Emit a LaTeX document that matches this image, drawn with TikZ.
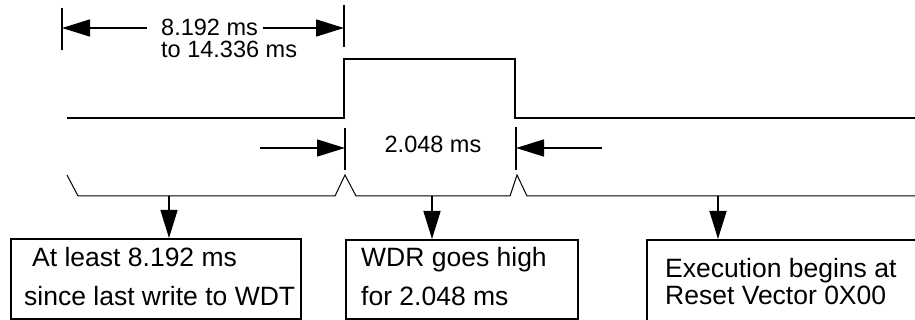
\documentclass[tikz,border=0pt]{standalone}
\usepackage{fontspec}
\setmainfont{Liberation Sans}
\usetikzlibrary{arrows.meta,positioning}

\begin{document}
\begin{tikzpicture}[x=1pt,y=-1pt,
  wave/.style={line width=2.6pt},
  tick/.style={line width=1.6pt},
  dim/.style={line width=1.4pt,-{Triangle[length=28pt,width=17pt]}},
  brace/.style={line width=1pt},
  note/.style={draw,line width=1.6pt,inner sep=0pt,anchor=north west},
  notetext/.style={anchor=base west,inner sep=0pt,align=left,font=\fontsize{26.5}{38}\selectfont},
  lbl/.style={font=\fontsize{23.5}{28}\selectfont,inner sep=0pt,anchor=base west,
    text height=16pt,text depth=0pt}]
\useasboundingbox (0,0) rectangle (915,320);

% signal
\coordinate (w0) at (67,118);
\coordinate (w1) at (344,118);
\coordinate (w2) at (344,59);
\coordinate (w3) at (515,59);
\coordinate (w4) at (515,118);
\coordinate (w5) at (915,118);
\draw[wave] (w0) -- (w1) -- (w2) -- (w3) -- (w4) -- (w5);

% 8.192 ms dimension
\coordinate (t1a) at (62,8);
\coordinate (t1b) at (62,50);
\coordinate (t2a) at (344,5);
\coordinate (t2b) at (344,47);
\draw[tick] (t1a) -- (t1b);
\draw[tick] (t2a) -- (t2b);
\node[lbl] (min) at (161,36) {8.192 ms};
\node[lbl] (max) at (161,58) {to 14.336 ms};
\coordinate (a1) at ([xshift=-14pt]min.west);
\coordinate (a2) at ([xshift=5pt]min.east);
\draw[dim] (a1) -- (a1 -| t1a);
\draw[dim] (a2) -- (a2 -| t2a);

% 2.048 ms dimension
\coordinate (t3a) at (345,128);
\coordinate (t3b) at (345,170);
\coordinate (t4a) at (516,127);
\coordinate (t4b) at (516,170);
\draw[tick] (t3a) -- (t3b);
\draw[tick] (t4a) -- (t4b);
\node[lbl,anchor=base] (pulse) at (433,153) {2.048 ms};
\coordinate (p1) at (260,148);
\coordinate (p2) at (602,148);
\draw[dim] (p1) -- (p1 -| t3a);
\draw[dim] (p2) -- (p2 -| t4a);

% time brace
\coordinate (b0) at (67,175);
\coordinate (b1) at (169,196);
\coordinate (b2) at (432,196);
\coordinate (b3) at (718,196);
\draw[brace] (b0) -- (78,196) -- (335,196) -- (345,175) -- (356,196)
  -- (510,196) -- (517,175) -- (527,196) -- (915,196);

% notes
\node[note,minimum width=290pt,minimum height=80pt] (wait) at (10,238) {};
\node[note,minimum width=232pt,minimum height=79pt] (high) at (345,239) {};
\node[note,minimum width=275pt,minimum height=86pt] (exec) at (646,239) {};
\node[notetext] (waittext) at (24,305) {\hspace*{8pt}At least 8.192 ms\\since last write to WDT};
\node[notetext] (hightext) at (361,305) {WDR goes high\\for 2.048 ms};
\node[notetext,font=\fontsize{26.5}{27}\selectfont] (exectext) at (665,304) {Execution begins at\\Reset Vector 0X00};
\draw[dim] (b1) -- (b1 |- wait.north);
\draw[dim] (b2) -- (b2 |- high.north);
\draw[dim] (b3) -- (b3 |- exec.north);
\end{tikzpicture}
\end{document}
